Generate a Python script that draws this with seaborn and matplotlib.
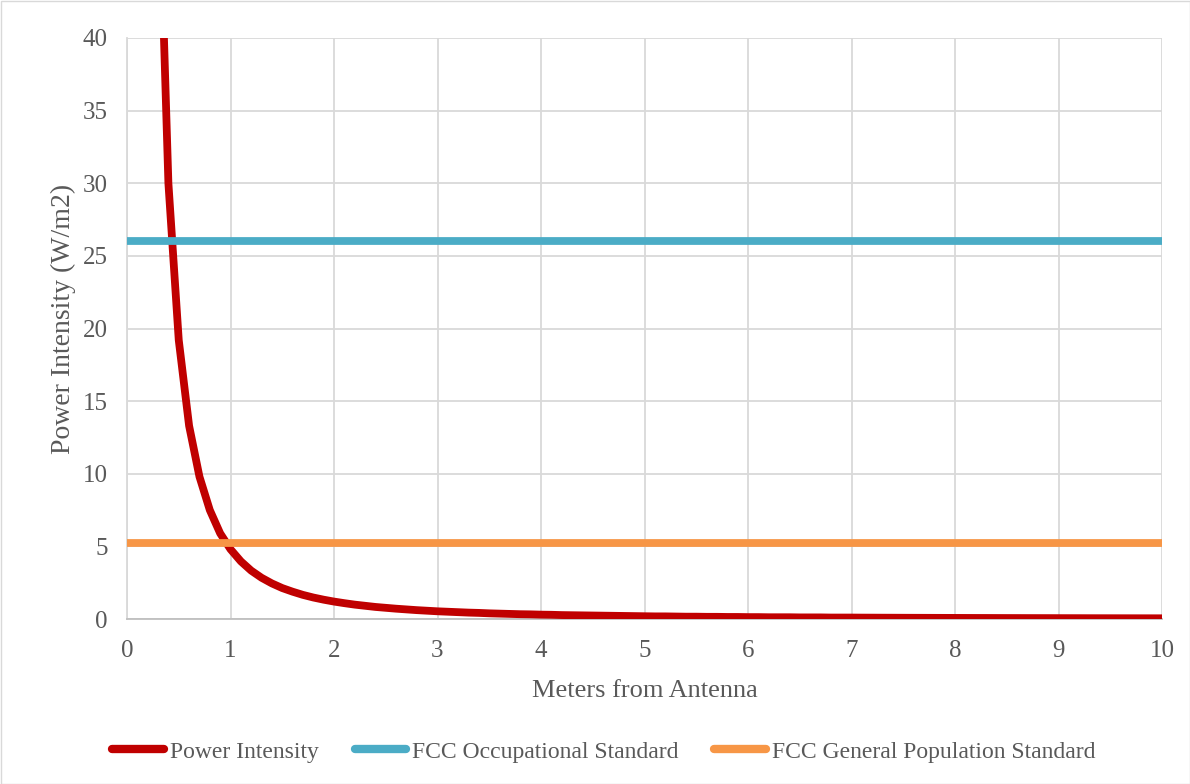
import numpy as np
import pandas as pd
import matplotlib
matplotlib.use("Agg")
import matplotlib.pyplot as plt
import seaborn as sns

# ---- data ----
distance_m = [0.1, 0.2, 0.3, 0.4, 0.5, 0.6, 0.7, 0.8, 0.9, 1.0,
              1.1, 1.2, 1.3, 1.4, 1.5, 1.6, 1.7, 1.8, 1.9, 2.0,
              2.1, 2.2, 2.3, 2.4, 2.5, 2.6, 2.7, 2.8, 2.9, 3.0,
              3.1, 3.2, 3.3, 3.4, 3.5, 3.6, 3.7, 3.8, 3.9, 4.0,
              4.1, 4.2, 4.3, 4.4, 4.5, 4.6, 4.7, 4.8, 4.9, 5.0,
              5.1, 5.2, 5.3, 5.4, 5.5, 5.6, 5.7, 5.8, 5.9, 6.0,
              6.1, 6.2, 6.3, 6.4, 6.5, 6.6, 6.7, 6.8, 6.9, 7.0,
              7.1, 7.2, 7.3, 7.4, 7.5, 7.6, 7.7, 7.8, 7.9, 8.0,
              8.1, 8.2, 8.3, 8.4, 8.5, 8.6, 8.7, 8.8, 8.9, 9.0,
              9.1, 9.2, 9.3, 9.4, 9.5, 9.6, 9.7, 9.8, 9.9, 10.0]
power_intensity = [480, 120, 53.3, 30.0, 19.2, 13.3, 9.8, 7.5, 5.9, 4.8,
                   3.97, 3.33, 2.84, 2.45, 2.13, 1.88, 1.66, 1.48, 1.33, 1.20,
                   1.09, 0.99, 0.91, 0.83, 0.77, 0.71, 0.66, 0.61, 0.57, 0.53,
                   0.50, 0.47, 0.44, 0.42, 0.39, 0.37, 0.35, 0.33, 0.32, 0.30,
                   0.29, 0.27, 0.26, 0.25, 0.24, 0.23, 0.22, 0.21, 0.20, 0.19,
                   0.18, 0.18, 0.17, 0.16, 0.16, 0.15, 0.15, 0.14, 0.14, 0.13,
                   0.13, 0.12, 0.12, 0.12, 0.11, 0.11, 0.11, 0.10, 0.10, 0.10,
                   0.095, 0.093, 0.090, 0.088, 0.085, 0.083, 0.081, 0.079, 0.077, 0.075,
                   0.073, 0.071, 0.070, 0.068, 0.066, 0.065, 0.063, 0.062, 0.061, 0.059,
                   0.058, 0.057, 0.055, 0.054, 0.053, 0.052, 0.051, 0.050, 0.049, 0.048]
standard_x = [0, 10]
fcc_occupational = [26, 26]
fcc_general = [5.2, 5.2]

series_names = ["Power Intensity", "FCC Occupational Standard", "FCC General Population Standard"]
x_ticks = [0, 1, 2, 3, 4, 5, 6, 7, 8, 9, 10]
y_ticks = [0, 5, 10, 15, 20, 25, 30, 35, 40]

sns.set_style("white")
plt.rcParams['font.family'] = ['Liberation Serif', 'DejaVu Serif']

fig = plt.figure(figsize=(11.9, 7.84), dpi=100)
ax = fig.add_axes([127/1190, 1 - 619/784, (1162-127)/1190, (619-38)/784])

text_col = "#595959"
grid_col = "#d9d9d9"

df_p = pd.DataFrame({"x": distance_m, "y": power_intensity})
df_o = pd.DataFrame({"x": standard_x, "y": fcc_occupational})
df_g = pd.DataFrame({"x": standard_x, "y": fcc_general})

lw = 5.6
sns.lineplot(data=df_p, x="x", y="y", ax=ax, color="#c00000", linewidth=lw,
             label=series_names[0], solid_capstyle="butt", solid_joinstyle="round", zorder=3)
sns.lineplot(data=df_o, x="x", y="y", ax=ax, color="#4bacc6", linewidth=lw,
             label=series_names[1], solid_capstyle="butt", zorder=4)
sns.lineplot(data=df_g, x="x", y="y", ax=ax, color="#f79646", linewidth=lw,
             label=series_names[2], solid_capstyle="butt", zorder=4)

ax.set_xlim(0, 10)
ax.set_ylim(0, 40)
ax.set_xticks(x_ticks)
ax.set_yticks(y_ticks)
ax.grid(True, color=grid_col, linewidth=1.3)
ax.set_axisbelow(True)
for s in ["top", "right"]:
    ax.spines[s].set_visible(False)
ax.spines["left"].set_color(grid_col)
ax.spines["left"].set_linewidth(1.3)
ax.spines["bottom"].set_color("#bfbfbf")
ax.spines["bottom"].set_linewidth(1.3)
ax.tick_params(axis="both", length=0, labelsize=18, labelcolor=text_col)
ax.tick_params(axis="x", pad=15)
ax.tick_params(axis="y", pad=14)

ax.set_xlabel("Meters from Antenna", fontsize=19, color=text_col, labelpad=13)
ax.set_ylabel("Power Intensity (W/m2)", fontsize=20, color=text_col)
ax.yaxis.set_label_coords(-0.049, 0.517)

leg = ax.legend(loc="center", bbox_to_anchor=(604/1190, 1 - 752/784), bbox_transform=fig.transFigure,
                ncol=3, frameon=False, fontsize=17, handlelength=2.2, handletextpad=0.25,
                columnspacing=1.5, borderpad=0)
for t in leg.get_texts():
    t.set_color(text_col)
for h in leg.get_lines():
    h.set_linewidth(6)
    h.set_solid_capstyle("round")

fig.patches.append(matplotlib.patches.Rectangle((0.5/1190, 0.5/784), 1 - 1/1190, 1 - 1/784,
                                                 transform=fig.transFigure, fill=False,
                                                 edgecolor=grid_col, linewidth=1))

fig.savefig("out.png", dpi=100)
